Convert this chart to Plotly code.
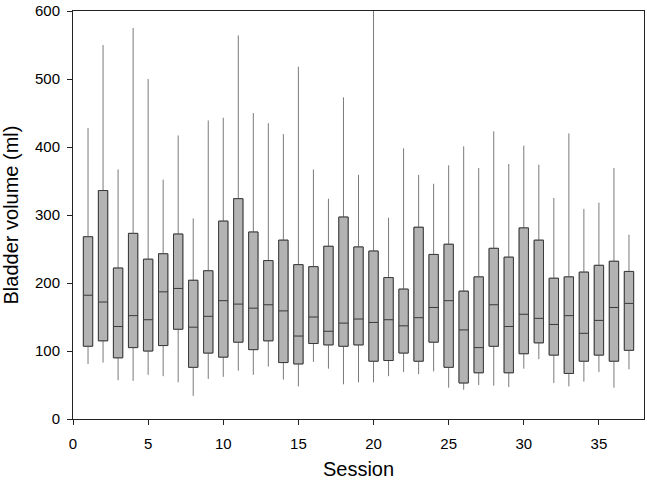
import plotly.graph_objects as go

# ---------- данные ----------
sessions = list(range(1, 38))

whisker_low = [81, 83, 57, 56, 65, 63, 54, 34, 59, 62, 71, 65, 77, 58, 48, 84, 74, 51, 54, 54,
               63, 69, 66, 70, 46, 43, 50, 49, 47, 74, 88, 53, 48, 55, 69, 46, 73]
q1 = [107, 115, 90, 105, 100, 108, 132, 76, 97, 91, 113, 102, 115, 83, 81, 111, 109, 107, 109, 85,
      86, 97, 85, 113, 76, 53, 68, 107, 68, 96, 112, 94, 67, 85, 94, 85, 101]
median = [182, 172, 136, 152, 146, 187, 192, 135, 151, 174, 169, 163, 168, 159, 122, 150, 129, 141, 147, 142,
          146, 137, 149, 164, 174, 131, 105, 168, 136, 154, 148, 139, 152, 126, 145, 164, 170]
q3 = [268, 336, 222, 273, 235, 243, 272, 204, 218, 291, 324, 275, 233, 263, 227, 224, 254, 297, 253, 247,
      208, 191, 282, 242, 257, 188, 209, 251, 238, 281, 263, 207, 209, 216, 226, 232, 217]
whisker_high = [428, 550, 367, 575, 500, 352, 417, 295, 439, 443, 564, 450, 435, 419, 518, 367, 324, 473, 359, 640,
                296, 398, 359, 346, 373, 401, 369, 423, 375, 402, 374, 325, 420, 309, 318, 369, 271]

FONT = 'Liberation Sans, Arial, sans-serif'

# ---------- график ----------
fig = go.Figure()
# усы (серые линии)
fig.add_trace(go.Box(
    x=sessions, q1=q1, median=median, q3=q3,
    lowerfence=whisker_low, upperfence=whisker_high,
    width=0.62, whiskerwidth=0,
    fillcolor='#b3b3b3', line=dict(color='#7a7a7a', width=1),
    boxpoints=False, hoverinfo='skip', showlegend=False,
))
# сами ящики поверх, с тёмным контуром
fig.add_trace(go.Box(
    x=sessions, q1=q1, median=median, q3=q3,
    lowerfence=q1, upperfence=q3,
    width=0.62, whiskerwidth=0,
    fillcolor='#b3b3b3', line=dict(color='#3a3a3a', width=1),
    boxpoints=False, hoverinfo='skip', showlegend=False,
))

tick_font = dict(family=FONT, size=15, color='black')
title_font = dict(family=FONT, size=20, color='black')

fig.update_xaxes(
    range=[0, 38], tickmode='array', tickvals=[0, 5, 10, 15, 20, 25, 30, 35],
    ticks='outside', ticklen=5, tickwidth=1, tickcolor='#222', ticklabelstandoff=6,
    showline=True, linecolor='#222', linewidth=1, mirror=True,
    showgrid=False, zeroline=False, tickfont=tick_font,
    title=dict(text='Session', font=title_font, standoff=10),
)
fig.update_yaxes(
    range=[0, 600], tickmode='array', tickvals=[0, 100, 200, 300, 400, 500, 600],
    ticks='outside', ticklen=5, tickwidth=1, tickcolor='#222', ticklabelstandoff=4,
    ticklabeloverflow='allow',
    showline=True, linecolor='#222', linewidth=1, mirror=True,
    showgrid=False, zeroline=False, tickfont=tick_font,
    title=dict(text='Bladder volume (ml)', font=title_font, standoff=14),
)
fig.update_layout(
    width=647, height=484,
    margin=dict(l=73, r=2, t=6, b=65),
    boxmode='overlay',
    plot_bgcolor='white', paper_bgcolor='white',
)
fig.write_html('out.html', config={'displayModeBar': False},
               post_script="document.body.style.margin='0';")
